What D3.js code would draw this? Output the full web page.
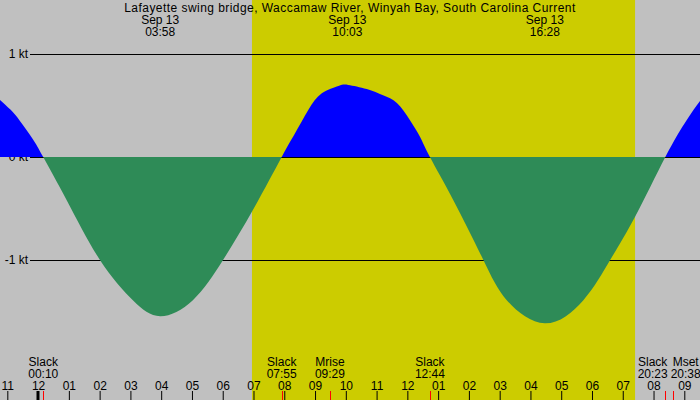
<!DOCTYPE html>
<html>

<head>
	<title>Lafayette swing bridge current</title>
	<meta http-equiv="Content-Type" content="text/html; charset=UTF-8">
	<script src="https://cdn.jsdelivr.net/npm/d3@7"></script>
	<style>
		html,
		body {
			margin: 0px;
			padding: 0px;
			background: #c0c0c0;
		}

		svg text {
			font: 12px "Liberation Sans", Arial, Helvetica, sans-serif;
			fill: #000;
		}
	</style>
</head>

<body>

	<svg id="chart" width="700" height="400"></svg>

	<script>
		// hours since midnight Sep 13 (negative = evening of Sep 12)
		var curveHours = [-1.3, -0.9, -0.59, -0.17, 0.167, 0.93, 2.01, 3.08, 3.967, 5.03, 6.01, 6.98, 7.917,
			8.35, 8.78, 9.22, 9.76, 10.08, 10.68, 11.21, 11.66, 12.08, 12.41, 12.733,
			13.49, 14.47, 15.23, 16.467, 17.72, 18.59, 19.40, 20.383, 21.08, 21.6];
		var curveKnots = [0.57, 0.46, 0.35, 0.173, 0, -0.42, -1.0, -1.39, -1.545, -1.39, -1.0, -0.515, 0,
			0.23, 0.456, 0.618, 0.69, 0.70, 0.66, 0.60, 0.524, 0.36, 0.197, 0,
			-0.417, -1.0, -1.39, -1.615, -1.39, -1.0, -0.58, 0, 0.36, 0.58];

		var title = "Lafayette swing bridge, Waccamaw River, Winyah Bay, South Carolina Current";
		var extremeDate = "Sep 13";
		var extremeTimes = ["03:58", "10:03", "16:28"];

		var eventNames = ["Slack", "Slack", "Mrise", "Slack", "Slack", "Mset"];
		var eventTimes = ["00:10", "07:55", "09:29", "12:44", "20:23", "20:38"];

		var sunrise = "06:57";
		var sunset = "19:24";

		var hourTicks = [-1, 0, 1, 2, 3, 4, 5, 6, 7, 8, 9, 10, 11, 12, 13, 14, 15, 16, 17, 18, 19, 20, 21];
		var hourLabels = ["11", "12", "01", "02", "03", "04", "05", "06", "07", "08", "09", "10",
			"11", "12", "01", "02", "03", "04", "05", "06", "07", "08", "09"];

		var ktTicks = [-1, 0, 1];

		var W = 700, H = 400;
		var svg = d3.select("#chart");

		function toHours(s) {
			var p = s.split(":");
			return +p[0] + p[1] / 60;
		}

		var x = d3.scaleLinear().domain([-1.238, 21.51]).range([0, W]);
		var y = d3.scaleLinear().domain([-1, 1]).range([260, 54]);

		// night / day background
		svg.append("rect")
			.attr("width", W)
			.attr("height", H)
			.attr("fill", "#c0c0c0");
		svg.append("rect")
			.attr("x", x(toHours(sunrise)))
			.attr("width", x(toHours(sunset)) - x(toHours(sunrise)))
			.attr("y", 0)
			.attr("height", H)
			.attr("fill", "#cccc00");

		// kt lines
		var yAxis = svg.append("g")
			.attr("transform", "translate(30,0)")
			.call(d3.axisLeft(y)
				.tickValues(ktTicks)
				.tickSize(-(W - 30))
				.tickPadding(2)
				.tickFormat(function(d) { return d + " kt"; }));
		yAxis.select(".domain").remove();
		yAxis.selectAll("line").attr("stroke", "#000");
		yAxis.selectAll("text").attr("font-family", null).attr("font-size", null).attr("dy", "0.33em");

		// current
		var pts = curveHours.map(function(h, i) { return [h, curveKnots[i]]; });
		var area = d3.area()
			.x(function(d) { return x(d[0]); })
			.y0(y(0))
			.y1(function(d) { return y(d[1]); })
			.curve(d3.curveNatural);

		var defs = svg.append("defs");
		defs.append("clipPath").attr("id", "above")
			.append("rect").attr("x", 0).attr("y", 0).attr("width", W).attr("height", y(0));
		defs.append("clipPath").attr("id", "below")
			.append("rect").attr("x", 0).attr("y", y(0)).attr("width", W).attr("height", H - y(0));

		svg.append("path")
			.datum(pts)
			.attr("clip-path", "url(#below)")
			.attr("fill", "#2e8b57")
			.attr("d", area);
		svg.append("path")
			.datum(pts)
			.attr("clip-path", "url(#above)")
			.attr("fill", "#0000ff")
			.attr("d", area);

		// title and extremes
		svg.append("text")
			.attr("x", W / 2)
			.attr("y", 12)
			.attr("text-anchor", "middle")
			.style("letter-spacing", "0.45px")
			.text(title);

		var ext = svg.selectAll(".ext")
			.data(extremeTimes)
			.enter().append("text")
			.attr("class", "ext")
			.attr("text-anchor", "middle");
		ext.append("tspan")
			.attr("x", function(d) { return x(toHours(d)); })
			.attr("y", 24)
			.text(extremeDate);
		ext.append("tspan")
			.attr("x", function(d) { return x(toHours(d)); })
			.attr("y", 36)
			.text(function(d) { return d; });

		// hour axis
		var hAxis = svg.append("g")
			.attr("transform", "translate(0," + H + ")")
			.call(d3.axisTop(x)
				.tickValues(hourTicks)
				.tickSize(9)
				.tickPadding(1.5)
				.tickFormat(function(d, i) { return hourLabels[i]; }));
		hAxis.select(".domain").remove();
		hAxis.selectAll("line").attr("stroke", "#000");
		hAxis.selectAll("text").attr("font-family", null).attr("font-size", null);
		hAxis.selectAll(".tick").filter(function(d) { return d === 0; })
			.select("line").attr("stroke-width", 3).attr("x1", -0.6).attr("x2", -0.6);

		// event marks
		svg.selectAll(".evmark")
			.data(eventTimes)
			.enter().append("line")
			.attr("class", "evmark")
			.attr("x1", function(d) { return Math.round(x(toHours(d))) + 0.5; })
			.attr("x2", function(d) { return Math.round(x(toHours(d))) + 0.5; })
			.attr("y1", H - 9)
			.attr("y2", H)
			.attr("stroke", "#ff0000");

		// event labels, pushed apart when they collide
		var ev = svg.selectAll(".ev")
			.data(eventTimes)
			.enter().append("text")
			.attr("class", "ev")
			.attr("text-anchor", "middle");
		ev.append("tspan").attr("y", 366).text(function(d, i) { return eventNames[i]; });
		ev.append("tspan").attr("y", 378).text(function(d) { return d; });

		var lab = [];
		ev.each(function(d) {
			var w = 0;
			d3.select(this).selectAll("tspan").each(function() {
				w = Math.max(w, this.getComputedTextLength());
			});
			lab.push({ node: this, cx: x(toHours(d)), w: w });
		});
		for (var i = 1; i < lab.length; i++) {
			var a = lab[i - 1], b = lab[i];
			var need = (a.w + b.w) / 2 + 3;
			if (b.cx - a.cx < need) {
				var mid = (a.cx + b.cx) / 2;
				a.cx = mid - need / 2;
				b.cx = mid + need / 2;
			}
		}
		lab.forEach(function(l) {
			d3.select(l.node).selectAll("tspan").attr("x", l.cx);
		});
	</script>

</body>

</html>
